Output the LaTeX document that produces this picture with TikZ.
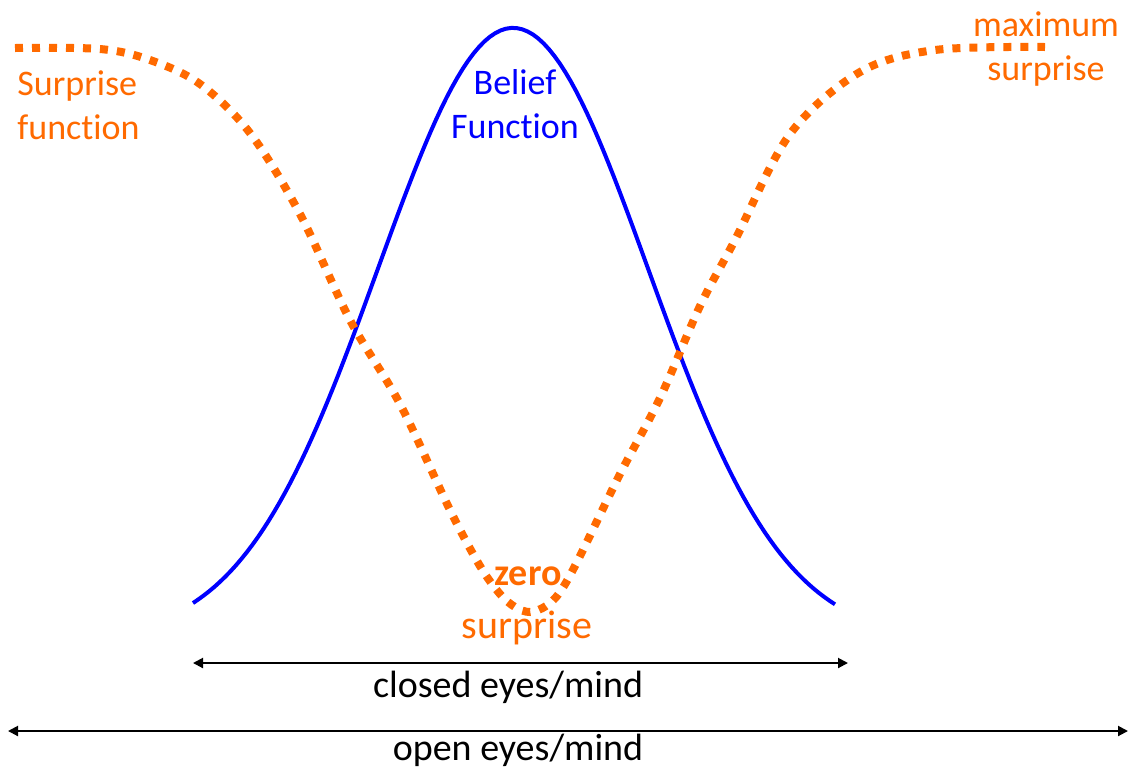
\documentclass[tikz,border=0pt]{standalone}
\usepackage{fontspec}
\setmainfont{Carlito}[Ligatures=NoCommon]
\usetikzlibrary{arrows.meta,positioning}
\definecolor{surp}{RGB}{255,106,0}
\definecolor{bel}{RGB}{0,0,255}
\begin{document}
\begin{tikzpicture}[x=0.5pt,y=-0.5pt,lbl/.style={align=center,inner sep=0pt,font=\fontsize{18}{22}\selectfont},arr/.style={{Triangle[length=5pt,width=5pt]}-{Triangle[length=5pt,width=5pt]},line width=1pt},dots/.style={surp,line width=4pt,dash pattern=on 4pt off 4.5pt}]
\useasboundingbox (0,0) rectangle (1130,767);
% belief and surprise curves
\draw[bel,line width=2pt] plot[domain=193:835,samples=120] (\x,{640-612*exp(-((\x-513)/100)^2/3.65)});
\draw[dots] plot[smooth,tension=0.55] coordinates {(15,48) (100,49) (150,60) (200,84) (250,133) (300,214) (350,320) (400,404) (450,510) (480,566) (500,594) (515,607) (530,612) (546,606) (560,592) (578,560) (620,474) (660,398) (700,306) (735,240) (790,134) (860,72) (935,50) (1045,47)};
\node[lbl,surp,align=left,anchor=west] (surpfun) at (17,105) {Surprise\\function};
\node[lbl,bel] (belief) at (515,104) {Belief\\Function};
\node[lbl,surp] (maxsur) at (1046,49) {maximum\\surprise};
\node[lbl,surp,font=\fontsize{19}{22}\selectfont\bfseries] (zero) at (528,576) {zero};
\node[lbl,surp,font=\fontsize{20}{22}\selectfont] (zerosur) at (527,628) {surprise};
% ranges
\coordinate (cl) at (193,663);\coordinate (cr) at (848,663);
\coordinate (ol) at (8,731);\coordinate (or) at (1128,731);
\draw[arr](cl)--(cr);\draw[arr](ol)--(or);
\node[lbl,font=\fontsize{19}{22}\selectfont] (closed) at (508,687) {closed eyes/mind};
\node[lbl,font=\fontsize{19}{22}\selectfont] (open) at (518,750) {open eyes/mind};
\end{tikzpicture}
\end{document}
